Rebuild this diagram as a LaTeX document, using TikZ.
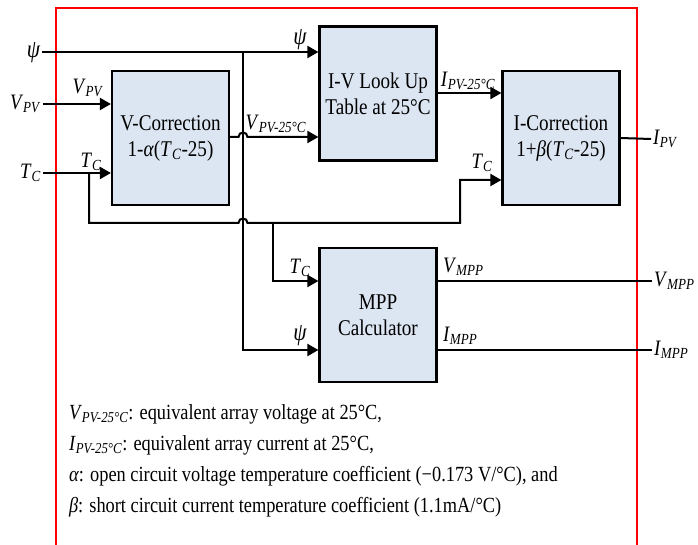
\documentclass[tikz,border=0pt]{standalone}
\usepackage{fontspec}
\setmainfont{Liberation Serif}[FakeStretch=0.85]
\usepackage{xcolor}
\usetikzlibrary{arrows.meta, positioning}
\definecolor{boxfill}{RGB}{220,230,242}
\newcommand{\sig}[2]{\textit{#1}\textsubscript{\textit{#2}}}

\begin{document}
\begin{tikzpicture}[x=1pt, y=-1pt, line width=2pt,
    blk/.style={draw, line width=2.2pt, fill=boxfill, minimum width=117pt, minimum height=134pt, align=center, font=\fontsize{22.5}{26}\selectfont},
    lbl/.style={font=\fontsize{22}{24}\selectfont, inner sep=1pt},
    greek/.style={font=\fontsize{25}{26}\selectfont\itshape, inner sep=1pt},
    arr/.style={-{Triangle[length=11pt,width=12pt]}}]
\useasboundingbox (0,0) rectangle (698,545);
\clip (0,0) rectangle (698,545);
% Frame
\draw[red, line width=1.3pt] (56,550) -- (56,8) -- (637,8) -- (637,550);
% Blocks
\node[blk] (vcorr) at (170.5,138) {V-Correction\\1-\textit{α}(\sig{T}{C}-25)};
\node[blk] (lut) at (378,93.5) {I-V Look Up\\Table at 25°C};
\node[blk] (icorr) at (561,138) {I-Correction\\1+\textit{β}(\sig{T}{C}-25)};
\node[blk] (mpp) at (378,315) {MPP\\Calculator};
% Inputs
\node[greek, anchor=east] (psi) at (42,53) {ψ};
\node[lbl, anchor=east] (vpv) at (43,104) {\sig{V}{PV}};
\node[lbl, anchor=east] (tc) at (43,173) {\sig{T}{C}};
\coordinate (tcsplit) at (89,173);
\coordinate (psisplit) at (243,52);
\coordinate (tcbus) at (273,223);
\draw[arr] (psi.east |- psisplit) -- (psisplit -| lut.west);
\draw[arr] (vpv.east) -- (vpv.east -| vcorr.west);
\draw[arr] (tc.east) -- (tc.east -| vcorr.west);
\draw[arr] (tcsplit) -- (tcsplit |- tcbus) -- (238.5,223) .. controls (238.5,217) and (247.5,217) .. (247.5,223)
    -- (460,223) -- (460,180) -- (icorr.west |- 0,180);
\draw[arr] (tcbus) -- (tcbus |- 0,281) -- (mpp.west |- 0,281);
\draw[arr] (psisplit) -- (psisplit |- 0,350) -- (mpp.west |- 0,350);
\draw[arr] (vcorr.east |- 0,137) -- (238.5,137) .. controls (238.5,131) and (247.5,131) .. (247.5,137)
    -- (lut.west |- 0,137);
\draw[arr] (lut.east |- 0,93) -- (icorr.west |- 0,93);
% Outputs
\node[lbl, anchor=west] (ipv) at (651,139) {\sig{I}{PV}};
\node[lbl, anchor=west] (vmppout) at (652,281) {\sig{V}{MPP}};
\node[lbl, anchor=west] (imppout) at (652,350) {\sig{I}{MPP}};
\draw (icorr.east) -- (ipv.west);
\draw (mpp.east |- vmppout) -- (vmppout.west);
\draw (mpp.east |- imppout) -- (imppout.west);
% Signal labels
\node[lbl] at (88,88) {\sig{V}{PV}};
\node[lbl] at (91,162) {\sig{T}{C}};
\node[greek] at (300,40) {ψ};
\node[lbl] at (276,124) {\sig{V}{PV-25°C}};
\node[lbl] at (468,81) {\sig{I}{PV-25°C}};
\node[lbl] at (482,163) {\sig{T}{C}};
\node[lbl] at (300,268) {\sig{T}{C}};
\node[greek] at (300,336) {ψ};
\node[lbl, anchor=west] at (441,267) {\sig{V}{MPP}};
\node[lbl, anchor=west] at (441,336) {\sig{I}{MPP}};
% Legend
\node[lbl, anchor=base west, align=left, font=\fontsize{21.6}{31}\selectfont] (legend) at (67,512) {%
\sig{V}{PV-25°C}: equivalent array voltage at 25°C,\\
\sig{I}{PV-25°C}: equivalent array current at 25°C,\\
\textit{α}: open circuit voltage temperature coefficient (−0.173 V/°C), and\\
\textit{β}: short circuit current temperature coefficient (1.1mA/°C)};
\end{tikzpicture}
\end{document}
